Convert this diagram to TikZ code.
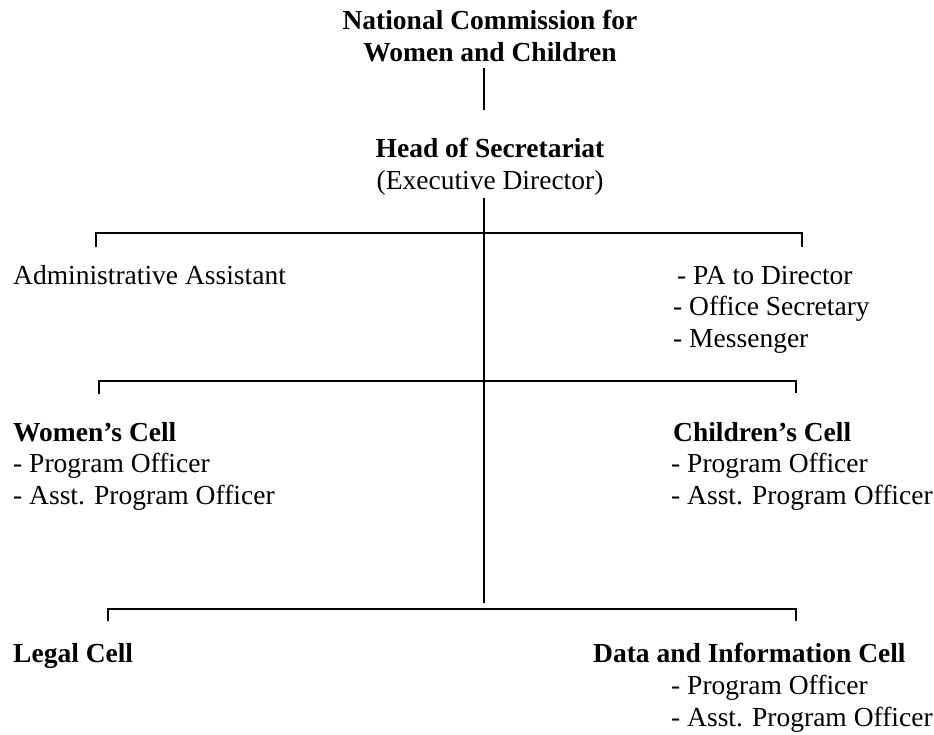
\documentclass[tikz,border=0pt]{standalone}
\usepackage{fontspec}
\setmainfont{Liberation Serif}
\begin{document}
\begin{tikzpicture}[x=1pt,y=-1pt,
  txt/.style={inner sep=0pt, font=\fontsize{27.5}{31.5}\selectfont},
  btxt/.style={inner sep=0pt, font=\fontsize{27.5}{31.5}\selectfont\bfseries},
  ln/.style={line width=1.4pt}]
\useasboundingbox (0,0) rectangle (934,734);
% titles
\node[btxt, anchor=base] (t1) at (490,29) {National Commission for};
\node[btxt, anchor=base] (t2) at (490,61) {Women and Children};
\node[btxt, anchor=base] (h1) at (490,157) {Head of Secretariat};
\node[txt, anchor=base] (h2) at (490,189) {(Executive Director)};
% level 1
\node[txt, anchor=base west] (adm) at (13,284) {Administrative Assistant};
\node[txt, anchor=base west] (pa) at (677,284) {- PA to Director};
\node[txt, anchor=base west] (os) at (673,315) {- Office Secretary};
\node[txt, anchor=base west] (ms) at (673,347) {- Messenger};
% level 2
\node[btxt, anchor=base west] (wc) at (13,441) {Women’s Cell};
\node[txt, anchor=base west] (wc1) at (13,472) {- Program Officer};
\node[txt, anchor=base west] (wc2) at (13,504) {- Asst. Program Officer};
\node[btxt, anchor=base west] (cc) at (673,441) {Children’s Cell};
\node[txt, anchor=base west] (cc1) at (671,472) {- Program Officer};
\node[txt, anchor=base west] (cc2) at (671,504) {- Asst. Program Officer};
% level 3
\node[btxt, anchor=base west] (lc) at (13,662) {Legal Cell};
\node[btxt, anchor=base west] (dc) at (593,662) {Data and Information Cell};
\node[txt, anchor=base west] (dc1) at (671,694) {- Program Officer};
\node[txt, anchor=base west] (dc2) at (671,726) {- Asst. Program Officer};
% coordinates
\coordinate (a1) at (484,68);
\coordinate (a2) at (484,110);
\coordinate (v1) at (484,198);
\coordinate (v2) at (484,603);
\coordinate (b1l) at (96,233);
\coordinate (b1r) at (802,233);
\coordinate (b1ld) at (96,247);
\coordinate (b1rd) at (802,247);
\coordinate (b2l) at (99,381);
\coordinate (b2r) at (796,381);
\coordinate (b2ld) at (99,394);
\coordinate (b2rd) at (796,393);
\coordinate (b3l) at (108,609);
\coordinate (b3r) at (796,609);
\coordinate (b3ld) at (108,621);
\coordinate (b3rd) at (796,621);
% connectors
\draw[ln] (a1) -- (a2);
\draw[ln] (v1) -- (v2);
\draw[ln] (b1ld) -- (b1l) -- (b1r) -- (b1rd);
\draw[ln] (b2ld) -- (b2l) -- (b2r) -- (b2rd);
\draw[ln] (b3ld) -- (b3l) -- (b3r) -- (b3rd);
\end{tikzpicture}
\end{document}
